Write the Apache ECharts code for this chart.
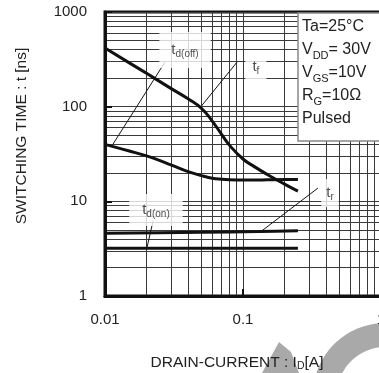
<!DOCTYPE html>
<html>
<head>
<meta charset="utf-8">
<script src="https://cdn.jsdelivr.net/npm/echarts@6/dist/echarts.min.js"></script>
<style>
  html, body { margin: 0; padding: 0; background: #fff; }
  #chart { width: 379px; height: 373px; }
</style>
</head>
<body>
<div id="chart"></div>
<script>
// drain current [A] and switching times [ns]
const currentA = [0.01, 0.015, 0.02, 0.03, 0.04, 0.05, 0.06, 0.07, 0.08, 0.1, 0.12, 0.15, 0.2, 0.25];
const tfNs     = [416, 290, 225, 156, 121, 96, 70, 51, 39, 28, 23.4, 19.2, 15.2, 12.8];
const tdOffNs  = [40, 34, 30.2, 24.3, 20.6, 18.7, 17.5, 17.1, 16.9, 16.8, 16.8, 16.9, 17, 17];
const trCurrentA = [0.01, 0.05, 0.13, 0.25];
const trNs       = [4.6, 4.7, 4.8, 4.9];
const tdOnCurrentA = [0.01, 0.25];
const tdOnNs       = [3.2, 3.2];

// curve labels and their leader lines (data coords)
const labelNames = ['td(off)', 'tf', 'td(on)', 'tr'];
const labelAt    = [[0.038, 396], [0.124, 262], [0.0234, 8.1], [0.427, 12.2]];
const leaderFrom = [[0.0272, 296], [0.0906, 296], [0.0223, 6.2], [0.349, 13.8]];
const leaderTo   = [[0.0114, 40], [0.0487, 97], [0.0201, 3.2], [0.135, 4.8]];

const xTicks = ['0.01', '0.1', '1'];
const yTicks = ['1', '10', '100', '1000'];

let chart = echarts.init(document.getElementById('chart'));

const font = 'Liberation Sans, Arial, sans-serif';
const zip = (xs, ys) => xs.map((x, i) => [x, ys[i]]);

const labelText = {
    'td(off)': '{t|t}{s|d(off)}',
    'tf': '{t|t}{s|f}',
    'td(on)': '{t|t}{s|d(on)}',
    'tr': '{t|t}{s|r}'
};
const labelPad = {
    'td(off)': [9, 12, 9, 12],
    'tf': [6, 7, 6, 7],
    'td(on)': [7, 13, 7, 13],
    'tr': [5, 5, 5, 5]
};

const curveStyle = {color: '#111', width: 3};

let series = [
    {type: 'line', data: zip(currentA, tfNs), smooth: 0.5, symbol: 'none', lineStyle: curveStyle, z: 3},
    {type: 'line', data: zip(currentA, tdOffNs), smooth: 0.4, symbol: 'none', lineStyle: curveStyle, z: 3},
    {type: 'line', data: zip(trCurrentA, trNs), smooth: 0.3, symbol: 'none', lineStyle: curveStyle, z: 3},
    {type: 'line', data: zip(tdOnCurrentA, tdOnNs), symbol: 'none', lineStyle: curveStyle, z: 3}
];

labelNames.forEach(function (n, i) {
    series.push({
        type: 'line', data: [leaderFrom[i], leaderTo[i]], symbol: 'none',
        lineStyle: {color: '#111', width: 1}, z: 4
    });
});

series.push({
    type: 'scatter',
    symbolSize: 1,
    itemStyle: {color: 'rgba(0,0,0,0)'},
    z: 6,
    data: labelNames.map(function (n, i) {
        return {
            value: labelAt[i],
            label: {
                show: true,
                position: 'inside',
                formatter: labelText[n],
                backgroundColor: '#fff',
                padding: labelPad[n],
                rich: {
                    t: {fontSize: 15, fontFamily: font, color: '#222', lineHeight: 18},
                    s: {fontSize: 10, fontFamily: font, color: '#222', lineHeight: 18, verticalAlign: 'bottom'}
                }
            }
        };
    })
});

let option = {
    animation: false,
    grid: {
        left: 105, top: 12, width: 276, height: 284,
        outerBoundsMode: 'none', containLabel: false,
        show: true, borderColor: '#111', borderWidth: 3
    },
    xAxis: {
        type: 'log', logBase: 10, min: 0.01, max: 1,
        name: 'DRAIN-CURRENT : {s|I}{d|D}{s|[A]}',
        nameLocation: 'middle', nameGap: 58,
        nameTextStyle: {
            fontFamily: font, fontSize: 15.5, color: '#222', padding: [0, 12, 0, 0],
            rich: {
                s: {fontFamily: font, fontSize: 15.5, color: '#222', lineHeight: 18},
                d: {fontFamily: font, fontSize: 10.5, color: '#222', lineHeight: 18, verticalAlign: 'bottom'}
            }
        },
        axisLine: {lineStyle: {color: '#111', width: 3}},
        axisTick: {inside: true, length: 7, lineStyle: {color: '#111', width: 2}},
        axisLabel: {
            margin: 16, fontFamily: font, fontSize: 15, color: '#222',
            formatter: function (v) {
                let k = Math.round(Math.log10(v)) + 2;
                return xTicks[k] || '';
            }
        },
        splitLine: {show: true, lineStyle: {color: '#3a3a3a', width: 1}},
        minorTick: {show: false, splitNumber: 9},
        minorSplitLine: {show: true, lineStyle: {color: '#3a3a3a', width: 1}}
    },
    yAxis: {
        type: 'log', logBase: 10, min: 1, max: 1000,
        name: 'SWITCHING TIME : t [ns]',
        nameLocation: 'middle', nameGap: 75, nameRotate: 90,
        nameTextStyle: {fontFamily: font, fontSize: 15.5, color: '#222', padding: [0, 0, 0, 36]},
        axisLine: {lineStyle: {color: '#111', width: 3}},
        axisTick: {inside: true, length: 7, lineStyle: {color: '#111', width: 2}},
        axisLabel: {
            margin: 18, fontFamily: font, fontSize: 15, color: '#222',
            formatter: function (v) {
                let k = Math.round(Math.log10(v));
                return yTicks[k] || '';
            }
        },
        splitLine: {show: true, lineStyle: {color: '#3a3a3a', width: 1}},
        minorTick: {show: false, splitNumber: 9},
        minorSplitLine: {show: true, lineStyle: {color: '#3a3a3a', width: 1}}
    },
    graphic: [
        // watermark behind everything
        {type: 'ring', z: -1, shape: {cx: 385, cy: 395, r: 72, r0: 48}, style: {fill: '#a9a9a9'}},
        {type: 'polygon', z: -1, shape: {points: [[262, 373], [279, 342], [291, 352], [299, 373]]}, style: {fill: '#a9a9a9'}},
        // conditions box
        {type: 'rect', z: 10, shape: {x: 298, y: 13, width: 100, height: 128},
            style: {fill: '#fff', stroke: '#888', lineWidth: 1.5}},
        {
            type: 'text', z: 11, left: 302, top: 19,
            style: {
                text: '{a|Ta=25°C}\n{a|V}{b|DD}{a|= 30V}\n{a|V}{b|GS}{a|=10V}\n{a|R}{b|G}{a|=10Ω}\n{a|Pulsed}',
                rich: {
                    a: {fontFamily: font, fontSize: 16, fill: '#222', lineHeight: 23},
                    b: {fontFamily: font, fontSize: 11, fill: '#222', lineHeight: 23, verticalAlign: 'bottom'}
                }
            }
        }
    ],
    series: series
};

chart.setOption(option);
</script>
</body>
</html>
